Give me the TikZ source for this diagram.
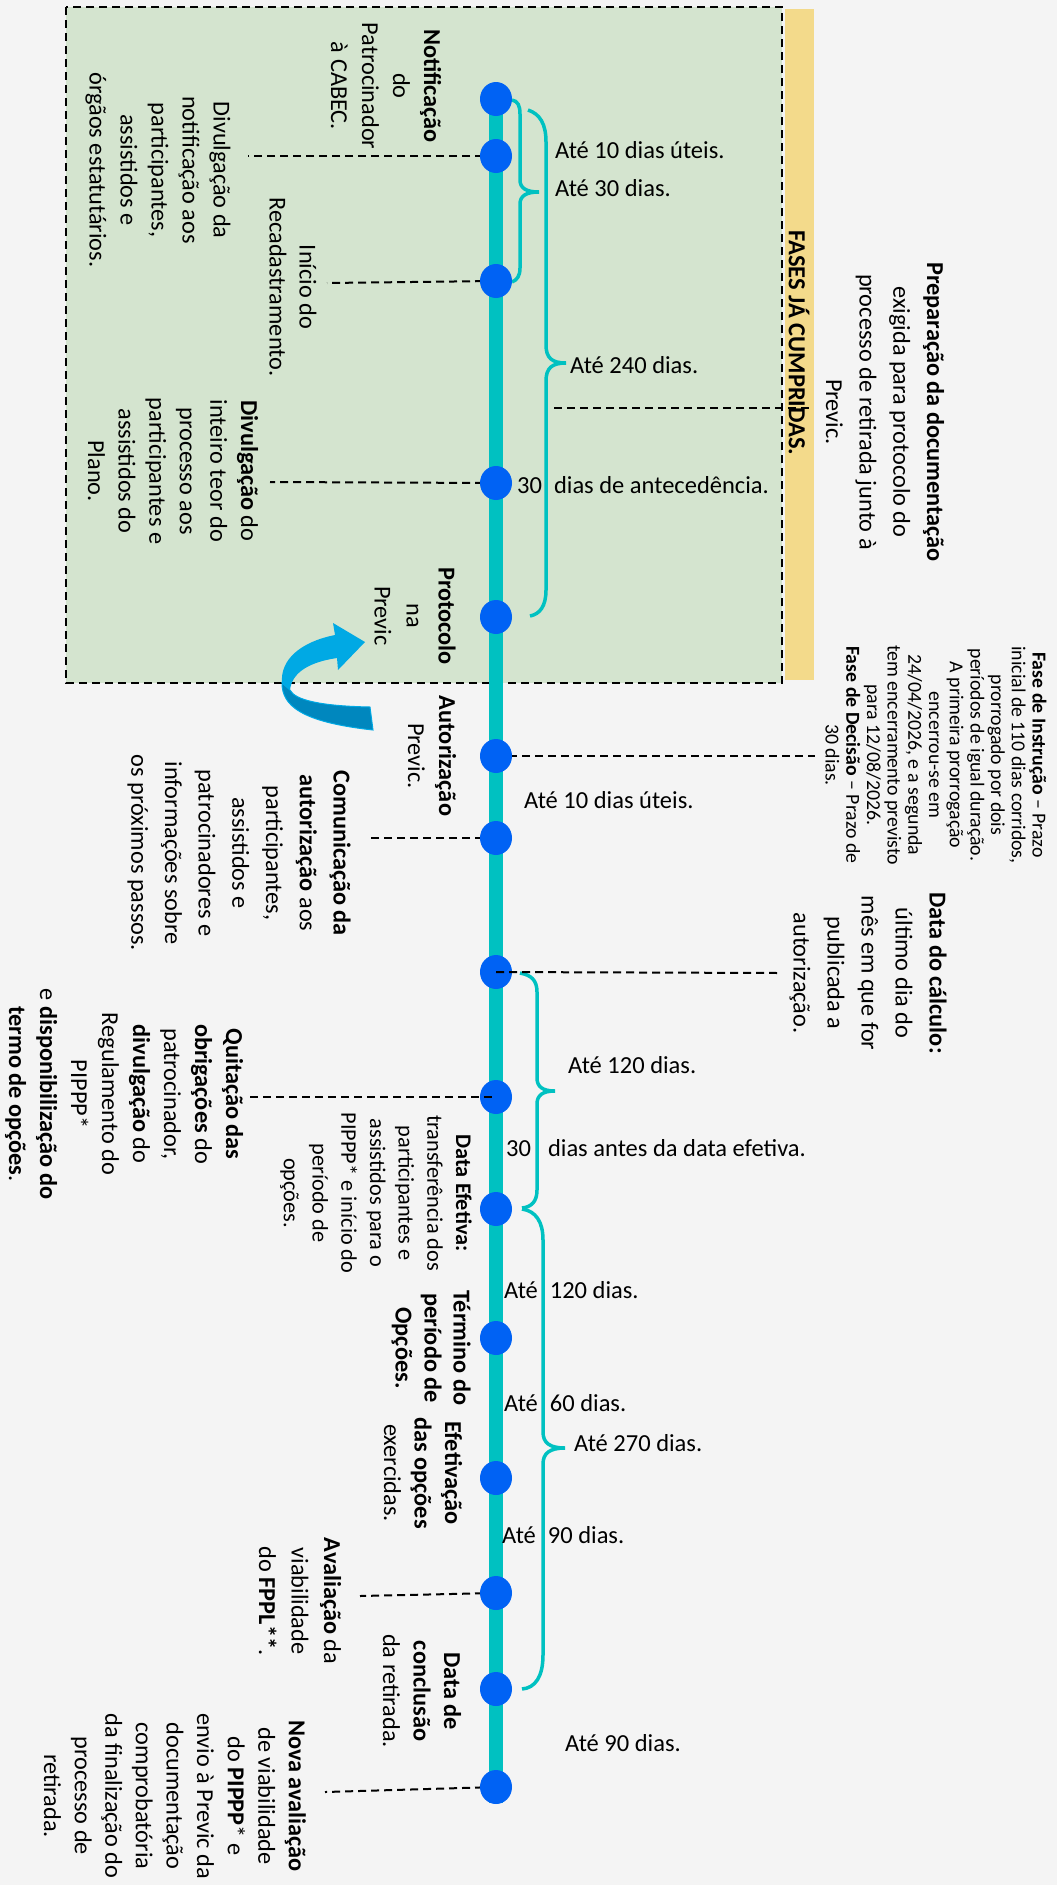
\documentclass[tikz,border=0pt]{standalone}
\usepackage{fontspec}
\setmainfont{Carlito}
\usetikzlibrary{shapes.geometric}
\definecolor{bgc}{HTML}{F4F4F4}
\definecolor{greenbox}{HTML}{D4E4CF}
\definecolor{yellowbar}{HTML}{F3DA8B}
\definecolor{tealc}{HTML}{00C1C1}
\definecolor{dotblue}{HTML}{0062F4}
\definecolor{arrowlight}{HTML}{00A9E4}
\definecolor{arrowdark}{HTML}{0087BE}
\tikzset{
  rtext/.style={rotate=-90, align=center, inner sep=0pt, font=\fontsize{24.3}{#1}\selectfont},
  rtext/.default=31,
  htext/.style={anchor=west, inner sep=0pt, font=\fontsize{24.5}{30}\selectfont},
  dot/.style={ellipse, fill=dotblue, minimum width=32pt, minimum height=34pt, inner sep=0pt},
  dashline/.style={draw=black, line width=2pt, dash pattern=on 8pt off 5pt},
  bracepath/.style={draw=tealc, line width=3.5pt},
}
\begin{document}
\begin{tikzpicture}[x=1pt,y=-1pt]
\fill[bgc] (0,0) rectangle (1057,1885);
\useasboundingbox (0,0) rectangle (1057,1885);
% green area and yellow bar
\fill[greenbox] (66,7) rectangle (782,683);
\fill[yellowbar] (785,9) rectangle (814,680);
\node[rotate=-90, inner sep=0pt, font=\bfseries\fontsize{24.5}{30}\selectfont] (fases) at (799,343) {FASES JÁ CUMPRIDAS.};
\draw[dashline] (66,7) rectangle (782,683);

% timeline
\coordinate (tltop) at (496,99);
\coordinate (tlend) at (496,1803);
\draw[tealc, line width=13.5pt] (tltop) -- (tlend);

% braces
\draw[bracepath] (512,100) .. controls (518,101) and (520,106) .. (520,114) -- (520,180) .. controls (520,188) and (526,192) .. (539,192) .. controls (526,192) and (520,196) .. (520,204) -- (520,268) .. controls (520,276) and (517,280) .. (512,282);
\draw[bracepath] (528,110) .. controls (540,114) and (546,124) .. (546,142) -- (546,345) .. controls (546,358) and (552,363) .. (566,363) .. controls (552,363) and (546,368) .. (546,381) -- (546,590) .. controls (546,606) and (540,614) .. (530,616);
\draw[bracepath] (520,973) .. controls (531,975) and (537,980) .. (537,992) -- (537,1078) .. controls (537,1087) and (543,1091) .. (555,1091) .. controls (543,1091) and (537,1095) .. (537,1104) -- (537,1190) .. controls (537,1202) and (531,1207) .. (522,1208);
\draw[bracepath] (522,1209) .. controls (536,1211) and (543,1222) .. (543,1240) -- (543,1432) .. controls (543,1443) and (550,1448) .. (565,1448) .. controls (550,1448) and (543,1453) .. (543,1464) -- (543,1655) .. controls (543,1677) and (535,1688) .. (522,1689);

% connector free ends
\coordinate (e2) at (248,156);
\coordinate (e3) at (327,283);
\coordinate (e4) at (270,482);
\coordinate (p1) at (554,408);
\coordinate (p2) at (809,408);
\coordinate (e6) at (815,756);
\coordinate (e7) at (368,838);
\coordinate (e8) at (780,973);
\coordinate (e9) at (250,1097);
\coordinate (e13) at (360,1596);
\coordinate (e15) at (325,1792);

% circles (positions)
\path (496,99) coordinate (k1) (496,156) coordinate (k2) (496,281) coordinate (k3)
      (496,483) coordinate (k4) (496,617) coordinate (k5) (496,756) coordinate (k6)
      (496,838) coordinate (k7) (496,972) coordinate (k8) (496,1097) coordinate (k9)
      (496,1209) coordinate (k10) (496,1338) coordinate (k11) (496,1478) coordinate (k12)
      (496,1593) coordinate (k13) (496,1689) coordinate (k14) (496,1787) coordinate (k15);

% dashed connectors under the dots
\draw[dashline] (k2) -- (e2);
\draw[dashline] (k3) -- (e3);
\draw[dashline] (k4) -- (e4);
\draw[dashline] (p1) -- (p2);
\draw[dashline] (k6) -- (e6);
\draw[dashline] (k7) -- (e7);
\draw[dashline] (k13) -- (e13);
\draw[dashline] (k15) -- (e15);

\foreach \i in {1,...,15} { \node[dot] (c\i) at (k\i) {}; }

% dashed connectors over the dots
\draw[dashline] (c8.center) -- (e8);
\draw[dashline] (e9) -- (c9.center);

% rotated texts
\node[rtext=31] (t1) at (386,86) {\textbf{Notificação}\\do\\Patrocinador\\à CABEC.};
\node[rtext=31] (t2) at (158,170) {Divulgação da\\notificação aos\\participantes,\\assistidos e\\órgãos estatutários.};
\node[rtext=30] (t3) at (293,287) {Início do\\Recadastramento.};
\node[rtext=30.6] (t4) at (173,471) {\textbf{Divulgação} do\\inteiro teor do\\processo aos\\participantes e\\assistidos do\\Plano.};
\node[rtext=32] (t5) at (415,616) {\textbf{Protocolo}\\na\\Previc};
\node[rtext=31] (t6) at (432,756) {\textbf{Autorização}\\Previc.};
\node[rtext=33.7] (t7) at (239,853) {\textbf{Comunicação da}\\\textbf{autorização} aos\\participantes,\\assistidos e\\patrocinadores e\\informações sobre\\os próximos passos.};
\node[rtext=31] (t8) at (124,1094) {\textbf{Quitação das}\\\textbf{obrigações} do\\patrocinador,\\\textbf{divulgação} do\\Regulamento do\\PIPPP*\\e \textbf{disponibilização do}\\\textbf{termo de opções}.};
\node[rotate=-90, align=center, inner sep=0pt, font=\fontsize{22.3}{28.7}\selectfont] (t9) at (376,1193) {\textbf{Data Efetiva:}\\transferência dos\\participantes e\\assistidos para o\\PIPPP* e início do\\período de\\opções.};
\node[rtext=29] (t10) at (431,1348) {\textbf{Término do}\\\textbf{período de}\\\textbf{Opções.}};
\node[rtext=30.5] (t11) at (423,1473) {\textbf{Efetivação}\\\textbf{das opções}\\exercidas.};
\node[rtext=32.5] (t12) at (300,1601) {\textbf{Avaliação} da\\viabilidade\\do \textbf{FPPL**}.};
\node[rtext=30.5] (t13) at (422,1691) {\textbf{Data de}\\\textbf{conclusão}\\da retirada.};
\node[rtext=30.6] (t14) at (175,1796) {\textbf{Nova avaliação}\\de viabilidade\\do \textbf{PIPPP}* e\\envio à Previc da\\documentação\\comprobatória\\da finalização do\\processo de\\retirada.};
\node[rtext=33.7] (t15) at (885,412) {\textbf{Preparação da documentação}\\exigida para protocolo do\\processo de retirada junto à\\Previc.};
\node[rotate=-90, align=center, inner sep=0pt, font=\fontsize{19.8}{20.7}\selectfont] (t16) at (936,755) {\textbf{Fase de Instrução} – Prazo\\inicial de 110 dias corridos,\\prorrogado por dois\\períodos de igual duração.\\A primeira prorrogação\\encerrou-se em\\24/04/2026, e a segunda\\tem encerramento previsto\\para 12/08/2026.\\\textbf{Fase de Decisão} – Prazo de\\30 dias.};
\node[rtext=34] (t17) at (868,973) {\textbf{Data do cálculo:}\\último dia do\\mês em que for\\publicada a\\autorização.};

% horizontal labels
\node[htext] (l1) at (555,150) {Até 10 dias úteis.};
\node[htext] (l2) at (555,188) {Até 30 dias.};
\node[htext] (l3) at (570,365) {Até 240 dias.};
\node[htext] (l4) at (517,485) {30\hspace{12pt}dias de antecedência.};
\node[htext] (l5) at (524,800) {Até 10 dias úteis.};
\node[htext] (l6) at (568,1065) {Até 120 dias.};
\node[htext] (l7) at (506,1148) {30\hspace{17pt}dias antes da data efetiva.};
\node[htext] (l8) at (504,1290) {Até\hspace{12pt}120 dias.};
\node[htext] (l9) at (504,1403) {Até\hspace{12pt}60 dias.};
\node[htext] (l10) at (574,1443) {Até 270 dias.};
\node[htext] (l11) at (502,1535) {Até\hspace{12pt}90 dias.};
\node[htext] (l12) at (565,1743) {Até 90 dias.};

% curved arrow
\fill[arrowdark, draw=arrowlight, line width=1pt] (282,683) .. controls (282,705) and (300,722) .. (373,730) -- (370,707) .. controls (320,706) and (295,700) .. (290,690) -- cycle;
\fill[arrowlight] (282,683) .. controls (280,660) and (300,642) .. (335,635) -- (333,623) -- (365,642) -- (338,670) -- (337,658) .. controls (310,662) and (292,672) .. (290,690) -- cycle;
\end{tikzpicture}
\end{document}
